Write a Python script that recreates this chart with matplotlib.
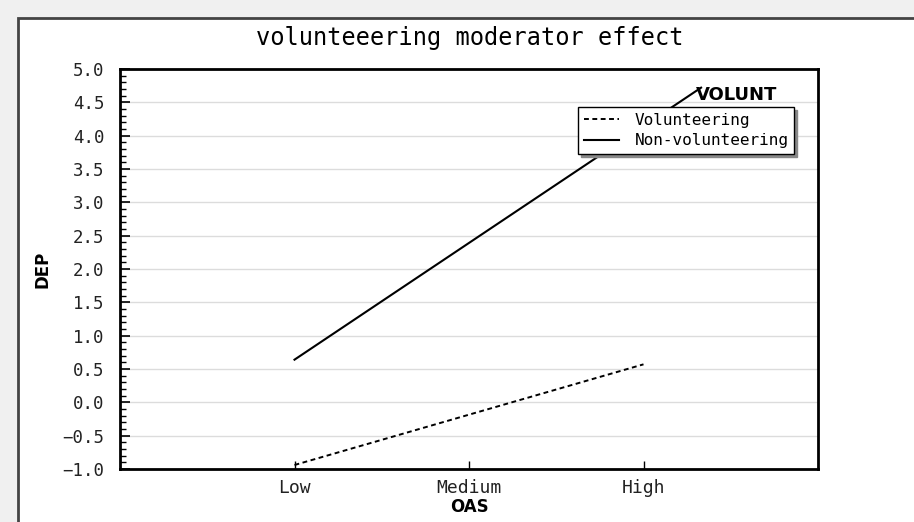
import matplotlib
matplotlib.use("Agg")
import matplotlib.pyplot as plt
from matplotlib.patches import Rectangle
from matplotlib.ticker import MultipleLocator

# ---- data ----
categories = ["Low", "Medium", "High"]
cat_pos = [1, 2, 3]
vol_x = [1.0, 3.0]
vol_y = [-0.94, 0.57]
nonvol_x = [1.0, 3.33]
nonvol_y = [0.64, 4.72]
yticks = [-1.0, -0.5, 0.0, 0.5, 1.0, 1.5, 2.0, 2.5, 3.0, 3.5, 4.0, 4.5, 5.0]

mono = "DejaVu Sans Mono"

fig = plt.figure(figsize=(9.14, 5.22), dpi=100)
fig.patch.set_facecolor("#f0f0f0")

# white panel with dark border (top/left visible)
W, H = 914, 522
panel = Rectangle((18 / W, -0.2), 1.2, (H - 18) / H + 0.2, transform=fig.transFigure,
                  facecolor="white", edgecolor="#444444", lw=2, zorder=-10)
fig.patches.append(panel)

ax = fig.add_axes([120 / W, 1 - 469 / H, (818 - 120) / W, (469 - 69) / H])
ax.set_facecolor("white")

ax.plot(nonvol_x, nonvol_y, color="black", lw=1.5, label="Non-volunteering", zorder=3)
ax.plot(vol_x, vol_y, color="black", lw=1.4, dashes=(2.5, 1.8), label="Volunteering", zorder=3)

ax.set_xlim(0, 4)
ax.set_ylim(-1, 5)
ax.set_xticks(cat_pos)
ax.set_xticklabels(categories, fontfamily=mono, fontsize=13, color="#222222")
ax.set_yticks(yticks)
ax.set_yticklabels([f"{v:.1f}".replace("-", "\u2212") for v in yticks], fontfamily=mono,
                   fontsize=12.5, color="#222222")
ax.yaxis.set_minor_locator(MultipleLocator(0.1))
ax.tick_params(axis="y", which="major", direction="in", length=7, width=1.2, left=True, right=False, pad=11)
ax.tick_params(axis="y", which="minor", direction="in", length=4, width=1.0, left=True, right=False)
ax.tick_params(axis="x", which="major", direction="in", length=6, width=1.0, bottom=True, top=False, pad=7)
ax.grid(axis="y", which="major", color="#dcdcdc", lw=1.0, zorder=0)
for s in ax.spines.values():
    s.set_linewidth(2)
    s.set_color("black")

ax.set_xlabel("OAS", fontfamily="DejaVu Sans", fontweight="bold", fontsize=12, labelpad=1)
ax.set_ylabel("DEP", fontfamily="DejaVu Sans", fontweight="bold", fontsize=12, labelpad=8)

fig.text(470 / W, 1 - 38 / H, "volunteeering moderator effect", fontfamily=mono,
         fontsize=17, fontweight="normal", ha="center", va="center", color="black")

# legend
handles, labels = ax.get_legend_handles_labels()
order = [1, 0]
leg = ax.legend([handles[i] for i in order], [labels[i] for i in order],
                loc="upper left", bbox_to_anchor=((578 - 120) / 698, (469 - 107) / 400),
                prop={"family": mono, "size": 11.5}, frameon=True, fancybox=False,
                shadow={"color": "#888888", "alpha": 1.0}, edgecolor="black", framealpha=1,
                handlelength=2.2, handletextpad=1.0, borderpad=0.35, labelspacing=0.35,
                borderaxespad=0)
leg.get_frame().set_linewidth(1.0)
leg.set_zorder(5)

ax.text((737 - 120) / 698, (469 - 95) / 400, "VOLUNT", transform=ax.transAxes,
        fontfamily="DejaVu Sans", fontweight="bold", fontsize=13, ha="center", va="center")

fig.savefig("out.png", dpi=100, facecolor=fig.get_facecolor())
